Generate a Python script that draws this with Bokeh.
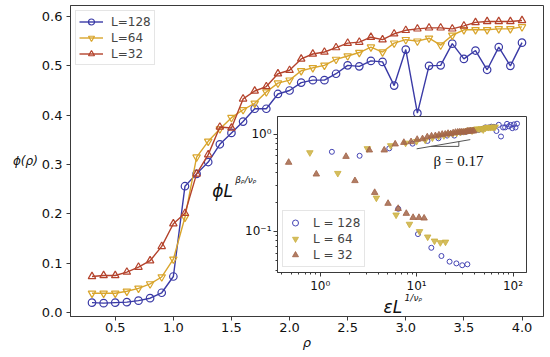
from bokeh.plotting import figure
from bokeh.models import Label, FixedTicker, Legend, LegendItem, NumeralTickFormatter
from bokeh.layouts import column
from bokeh.embed import file_html
from bokeh.resources import INLINE

# ---------------- main panel data ----------------
rho = [0.3, 0.4, 0.5, 0.6, 0.7, 0.8, 0.9, 1.0, 1.1, 1.2, 1.3, 1.4, 1.5, 1.6, 1.7, 1.8, 1.9,
       2.0, 2.1, 2.2, 2.3, 2.4, 2.5, 2.6, 2.7, 2.8, 2.9, 3.0, 3.1, 3.2, 3.3, 3.4, 3.5, 3.6,
       3.7, 3.8, 3.9, 4.0]
phi_128 = [0.020, 0.019, 0.020, 0.021, 0.024, 0.029, 0.040, 0.073, 0.256, 0.281, 0.305, 0.341,
           0.364, 0.387, 0.413, 0.413, 0.443, 0.450, 0.466, 0.471, 0.471, 0.484, 0.501, 0.499,
           0.510, 0.508, 0.460, 0.533, 0.404, 0.500, 0.501, 0.545, 0.514, 0.531, 0.492, 0.538,
           0.500, 0.547]
phi_64 = [0.039, 0.039, 0.039, 0.043, 0.049, 0.058, 0.072, 0.108, 0.193, 0.315, 0.347, 0.372,
          0.395, 0.411, 0.424, 0.447, 0.465, 0.471, 0.490, 0.496, 0.501, 0.513, 0.520, 0.527,
          0.538, 0.528, 0.546, 0.553, 0.550, 0.556, 0.542, 0.562, 0.573, 0.573, 0.573, 0.575,
          0.575, 0.579]
phi_32 = [0.073, 0.075, 0.075, 0.082, 0.092, 0.105, 0.134, 0.180, 0.201, 0.281, 0.320, 0.376,
          0.374, 0.433, 0.449, 0.458, 0.484, 0.491, 0.514, 0.524, 0.528, 0.537, 0.546, 0.548,
          0.558, 0.553, 0.565, 0.572, 0.575, 0.577, 0.577, 0.575, 0.581, 0.588, 0.590, 0.590,
          0.590, 0.592]
labels_main = ["L=128", "L=64", "L=32"]
x_ticks = [0.5, 1.0, 1.5, 2.0, 2.5, 3.0, 3.5, 4.0]
y_ticks = [0.0, 0.1, 0.2, 0.3, 0.4, 0.5, 0.6]

# ---------------- inset (scaling collapse) data ----------------
eps_128 = [33.60, 29.72, 25.84, 21.96, 18.08, 14.20, 10.32, 6.44, 2.56, 1.32, 5.20, 9.08, 12.96,
           16.84, 20.72, 24.60, 28.48, 32.36, 36.24, 40.12, 44.00, 47.88, 51.76, 55.64, 59.52,
           63.40, 67.28, 71.16, 75.04, 78.92, 82.80, 86.68, 90.56, 94.44, 98.32, 102.2, 106.1,
           110.0]
col_128 = [0.046, 0.045, 0.047, 0.049, 0.056, 0.068, 0.094, 0.171, 0.599, 0.658, 0.714, 0.798,
           0.852, 0.906, 0.966, 0.966, 1.037, 1.053, 1.090, 1.102, 1.102, 1.133, 1.172, 1.168,
           1.193, 1.189, 1.076, 1.247, 0.945, 1.170, 1.172, 1.275, 1.203, 1.243, 1.151, 1.259,
           1.170, 1.280]
eps_64 = [19.92, 17.62, 15.32, 13.02, 10.72, 8.42, 6.12, 3.82, 1.52, 0.78, 3.08, 5.38, 7.68,
          9.98, 12.28, 14.58, 16.88, 19.18, 21.48, 23.78, 26.08, 28.38, 30.68, 32.98, 35.28,
          37.58, 39.88, 42.18, 44.48, 46.78, 49.08, 51.38, 53.68, 55.98, 58.28, 60.58, 62.88,
          65.18]
col_64 = [0.078, 0.077, 0.080, 0.088, 0.100, 0.119, 0.148, 0.221, 0.396, 0.646, 0.711, 0.763,
          0.810, 0.843, 0.869, 0.916, 0.953, 0.966, 1.005, 1.017, 1.027, 1.052, 1.066, 1.080,
          1.103, 1.082, 1.119, 1.134, 1.128, 1.140, 1.111, 1.152, 1.175, 1.175, 1.175, 1.179,
          1.179, 1.187]
eps_32 = [11.95, 10.57, 9.19, 7.81, 6.43, 5.05, 3.67, 2.29, 0.91, 0.47, 1.85, 3.23, 4.61, 5.99,
          7.37, 8.75, 10.13, 11.51, 12.89, 14.27, 15.65, 17.03, 18.41, 19.79, 21.17, 22.55,
          23.93, 25.31, 26.69, 28.07, 29.45, 30.83, 32.21, 33.59, 34.97, 36.35, 37.73, 39.11]
col_32 = [0.137, 0.139, 0.139, 0.153, 0.172, 0.194, 0.251, 0.332, 0.388, 0.512, 0.589, 0.685,
          0.685, 0.790, 0.820, 0.834, 0.881, 0.894, 0.935, 0.954, 0.961, 0.977, 0.994, 0.997,
          1.016, 1.006, 1.028, 1.041, 1.047, 1.050, 1.050, 1.047, 1.057, 1.070, 1.074, 1.074,
          1.074, 1.077]
labels_inset = ["L = 128", "L = 64", "L = 32"]
slope_x = [10.0, 36.0]
slope_y = [0.706, 0.878]
tri_x = [14.0, 27.4, 27.4]
tri_y = [0.748, 0.748, 0.838]
inset_x_ticks = [1, 10, 100]
inset_x_labels = ["10\u2070", "10\u00b9", "10\u00b2"]
inset_y_ticks = [0.1, 1.0]
inset_y_labels = ["10\u207b\u00b9", "10\u2070"]

BLUE = "#3a3aa6"
GOLD = "#d9a52c"
RED = "#b4432c"
FONT = "DejaVu Sans"
AX = "#3a3a3a"
TXT = "#111111"

# ---------------- main figure ----------------
p = figure(width=545, height=352, x_range=(0.115, 4.185), y_range=(-0.0081, 0.6223),
           output_backend="svg", toolbar_location=None,
           min_border_left=62, min_border_right=0, min_border_top=5, min_border_bottom=36)
p.grid.visible = False
p.outline_line_color = AX
p.outline_line_width = 1
p.background_fill_color = "white"
p.border_fill_color = "white"
for ax in (p.xaxis[0], p.yaxis[0]):
    ax.axis_line_color = AX
    ax.major_tick_line_color = AX
    ax.major_tick_out = 4
    ax.major_tick_in = 0
    ax.minor_tick_line_color = None
    ax.major_label_text_font = FONT
    ax.major_label_text_font_size = "13px"
    ax.major_label_text_color = TXT
    ax.formatter = NumeralTickFormatter(format="0.0")
    ax.axis_label_text_font = FONT
    ax.axis_label_text_font_style = "italic"
    ax.axis_label_text_color = TXT
p.xaxis.ticker = FixedTicker(ticks=x_ticks)
p.yaxis.ticker = FixedTicker(ticks=y_ticks)
p.xaxis.major_label_standoff = 2
p.yaxis.major_label_standoff = 4
p.xaxis.axis_label = "\u03c1"
p.xaxis.axis_label_text_font_size = "13px"
p.xaxis.axis_label_standoff = 0
p.yaxis.axis_label = "\u03d5(\u03c1)"
p.yaxis.axis_label_text_font_size = "12px"
p.yaxis.axis_label_orientation = "horizontal"
p.yaxis.axis_label_standoff = 1

items = []
for phi, color, marker, lab in [(phi_128, BLUE, "circle", labels_main[0]),
                                (phi_64, GOLD, "inverted_triangle", labels_main[1]),
                                (phi_32, RED, "triangle", labels_main[2])]:
    rl = p.line(rho, phi, line_color=color, line_width=1.4)
    rs = p.scatter(rho, phi, marker=marker, size=7.5, fill_color=None,
                   line_color=color, line_width=1.2)
    items.append(LegendItem(label=lab, renderers=[rl, rs]))

leg = Legend(items=items, location="top_left", margin=5, padding=3, spacing=1,
             label_height=15, glyph_height=15, glyph_width=24, label_standoff=8,
             label_text_font=FONT, label_text_font_size="12px",
             border_line_color="#cccccc", background_fill_alpha=0.85)
p.add_layout(leg)

# inset axis titles (drawn in the main canvas, beside the inset)
p.add_layout(Label(x=1.334, y=0.2473, text="\u03d5L", text_font=FONT,
                   text_font_style="italic", text_font_size="17px",
                   text_baseline="alphabetic", text_align="left", text_color=TXT))
p.add_layout(Label(x=1.532, y=0.2696, text="\u03b2\u1d68/\u03bd\u1d68", text_font=FONT,
                   text_font_style="italic", text_font_size="9px",
                   text_baseline="alphabetic", text_align="left", text_color=TXT))
p.add_layout(Label(x=2.809, y=0.0121, text="\u03b5L", text_font=FONT,
                   text_font_style="italic", text_font_size="17px",
                   text_baseline="alphabetic", text_align="left", text_color=TXT))
p.add_layout(Label(x=2.990, y=0.0304, text="1/\u03bd\u1d68", text_font=FONT,
                   text_font_style="italic", text_font_size="9px",
                   text_baseline="alphabetic", text_align="left", text_color=TXT))

# ---------------- inset figure ----------------
ins = figure(x_axis_type="log", y_axis_type="log", x_range=(0.36, 138), y_range=(0.0379, 1.517),
             width=321, height=188, output_backend="svg", toolbar_location=None,
             min_border_left=70, min_border_right=2, min_border_top=2, min_border_bottom=30)
ins.grid.visible = False
ins.border_fill_color = None
ins.background_fill_color = "white"
ins.outline_line_color = AX
for ax in (ins.xaxis[0], ins.yaxis[0]):
    ax.axis_line_color = AX
    ax.major_tick_line_color = AX
    ax.minor_tick_line_color = AX
    ax.major_tick_out = 4
    ax.major_tick_in = 0
    ax.minor_tick_out = 2
    ax.minor_tick_in = 0
    ax.major_label_text_font = FONT
    ax.major_label_text_font_size = "12px"
    ax.major_label_text_color = TXT
    ax.major_label_standoff = 2
minor_x = [m * d for d in (0.1, 1, 10, 100) for m in range(2, 10) if 0.36 <= m * d <= 138]
minor_y = [m * d for d in (0.01, 0.1, 1) for m in range(2, 10) if 0.0379 <= m * d <= 1.517]
ins.xaxis.ticker = FixedTicker(ticks=inset_x_ticks, minor_ticks=minor_x)
ins.yaxis.ticker = FixedTicker(ticks=inset_y_ticks, minor_ticks=minor_y)
ins.xaxis.major_label_overrides = {t: s for t, s in zip(inset_x_ticks, inset_x_labels)}
ins.yaxis.major_label_overrides = {t: s for t, s in zip(inset_y_ticks, inset_y_labels)}

r1 = ins.scatter(eps_128, col_128, marker="circle", size=5, fill_color=None,
                 line_color="#4444b4", line_width=1)
r2 = ins.scatter(eps_64, col_64, marker="inverted_triangle", size=6.5,
                 fill_color="#cdb143", line_color="#cdb143", alpha=0.85)
r3 = ins.scatter(eps_32, col_32, marker="triangle", size=6.5,
                 fill_color="#a3664a", line_color="#a3664a", alpha=0.85)
ins.line(slope_x, slope_y, line_color="#555555", line_width=1)
ins.line(tri_x, tri_y, line_color="#555555", line_width=1)
ins.add_layout(Label(x=15.0, y=0.532, text="\u03b2 = 0.17", text_font="Liberation Serif",
                     text_font_size="15px", text_baseline="alphabetic", text_align="left",
                     text_color=TXT))
ileg = Legend(items=[LegendItem(label=labels_inset[0], renderers=[r1]),
                     LegendItem(label=labels_inset[1], renderers=[r2]),
                     LegendItem(label=labels_inset[2], renderers=[r3])],
              location="bottom_left", margin=5, padding=4, spacing=1,
              label_height=15, glyph_height=15, glyph_width=16, label_standoff=10,
              label_text_font=FONT, label_text_font_size="12px",
              border_line_color="#cccccc", background_fill_alpha=0.85)
ins.add_layout(ileg)
ins.styles = {"position": "absolute", "left": "207px", "top": "114px"}

layout = column(p, ins)
open("out.html", "w").write(file_html(layout, INLINE))
